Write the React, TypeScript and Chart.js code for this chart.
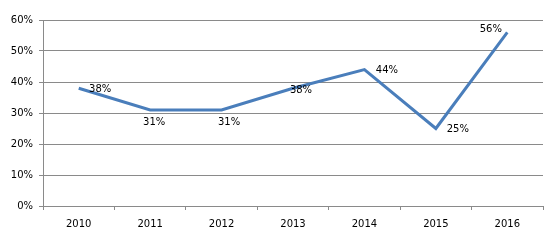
import React, { useEffect, useRef } from "react";
import { Chart, registerables } from "chart.js";

Chart.register(...registerables);

const categories = ["2010", "2011", "2012", "2013", "2014", "2015", "2016"];
const values = [38, 31, 31, 38, 44, 25, 56];
const yTicks = [0, 10, 20, 30, 40, 50, 60];

// label placement (style): offset of label centre from its point, in px
const labelOffsets: [number, number][] = [
  [21.5, 1],
  [4, 12.5],
  [7.5, 13],
  [8, 2],
  [22.5, 0.5],
  [22, 0.5],
  [-16.5, -3],
];

const FONT = "'DejaVu Sans', Verdana, sans-serif";
const GRID = "#8a8a8a";

const labelPlugin = {
  id: "pointLabels",
  afterDatasetsDraw(chart: any) {
    const ctx = chart.ctx;
    const meta = chart.getDatasetMeta(0);
    ctx.save();
    ctx.font = `10px ${FONT}`;
    ctx.fillStyle = "#000";
    ctx.textAlign = "center";
    ctx.textBaseline = "middle";
    meta.data.forEach((pt: any, i: number) => {
      const [dx, dy] = labelOffsets[i];
      ctx.fillText(values[i] + "%", pt.x + dx, pt.y + dy);
    });
    ctx.restore();
  },
};

export default function App() {
  const ref = useRef<HTMLCanvasElement>(null);
  useEffect(() => {
    if (!ref.current) return;
    const chart = new Chart(ref.current, {
      type: "line",
      data: {
        labels: categories,
        datasets: [
          {
            data: values,
            borderColor: "#4A7EBB",
            borderWidth: 3,
            pointRadius: 0,
            fill: false,
            tension: 0,
            borderJoinStyle: "miter",
          },
        ],
      },
      options: {
        responsive: false,
        animation: false,
        layout: { padding: { top: 20, right: 11, left: 0, bottom: 0 } },
        plugins: { legend: { display: false }, tooltip: { enabled: false } },
        scales: {
          x: {
            offset: true,
            grid: {
              offset: true,
              drawOnChartArea: false,
              drawTicks: true,
              tickLength: 4,
              color: GRID,
            },
            border: { color: GRID },
            ticks: {
              color: "#000",
              font: { family: FONT, size: 10 },
              padding: 8,
              maxRotation: 0,
            },
            afterFit: (s: any) => {
              s.height = 34;
            },
          },
          y: {
            min: 0,
            max: 60,
            afterBuildTicks: (s: any) => {
              s.ticks = yTicks.map((v) => ({ value: v }));
            },
            grid: { color: GRID, tickLength: 4, drawTicks: true },
            border: { color: GRID },
            ticks: {
              color: "#000",
              font: { family: FONT, size: 10 },
              padding: 6,
              callback: (v: any) => v + "%",
            },
            afterFit: (s: any) => {
              s.width = 43;
            },
          },
        },
      },
      plugins: [labelPlugin],
    });
    return () => chart.destroy();
  }, []);
  return (
    <div style={{ position: "fixed", left: 0, top: 0, width: 554, height: 240, background: "#fff" }}>
      <canvas ref={ref} width={554} height={240} style={{ width: 554, height: 240 }} />
    </div>
  );
}
